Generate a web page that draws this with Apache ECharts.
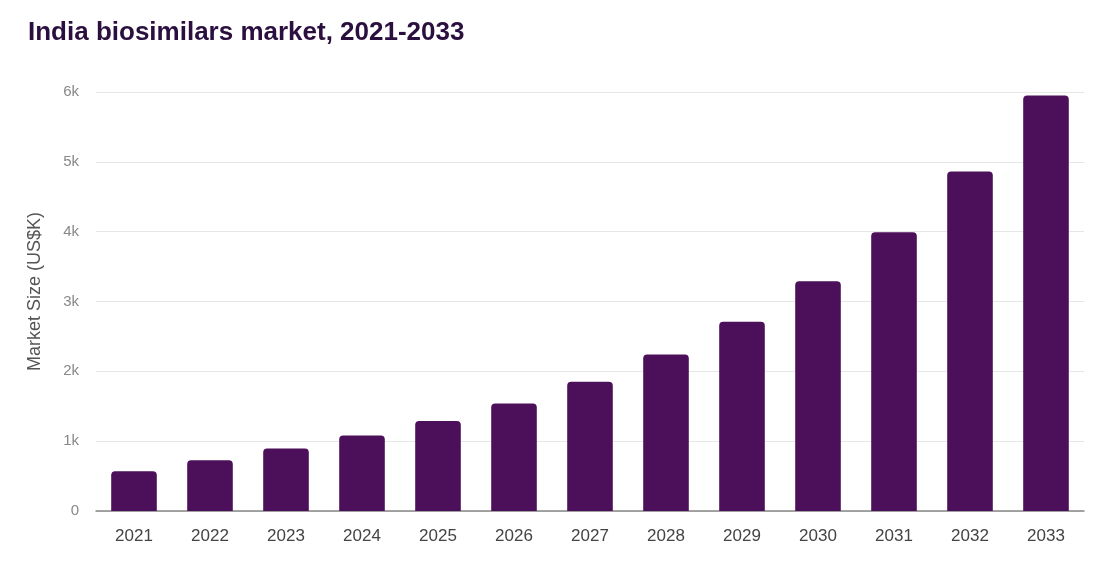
<!DOCTYPE html>
<html>
<head>
<meta charset="utf-8">
<script src="https://cdn.jsdelivr.net/npm/echarts@6/dist/echarts.min.js"></script>
<style>
  html, body { margin: 0; padding: 0; background: #fff; }
  #main { width: 1102px; height: 565px; }
</style>
</head>
<body>
<div id="main"></div>
<script>
// data
var years = ['2021', '2022', '2023', '2024', '2025', '2026', '2027', '2028', '2029', '2030', '2031', '2032', '2033'];
var marketSize = [570, 725, 895, 1080, 1290, 1540, 1850, 2240, 2710, 3290, 3990, 4860, 5950];
var yTicks = [0, 1000, 2000, 3000, 4000, 5000, 6000];

var myChart = echarts.init(document.getElementById('main'));

var option = {
    animation: false,
    title: {
        text: 'India biosimilars market, 2021-2033',
        left: 23,
        top: 15,
        textStyle: {
            fontFamily: 'Liberation Sans',
            fontSize: 26,
            fontWeight: 'bold',
            color: '#2b0f3f'
        }
    },
    grid: {
        left: 96,
        right: 18,
        top: 92,
        bottom: 54
    },
    xAxis: {
        type: 'category',
        data: years,
        axisTick: { show: false },
        axisLine: { lineStyle: { color: '#888', width: 1.5 } },
        axisLabel: {
            margin: 17,
            fontFamily: 'Liberation Sans',
            fontSize: 17,
            color: '#444'
        }
    },
    yAxis: {
        type: 'value',
        min: yTicks[0],
        max: yTicks[yTicks.length - 1],
        interval: 1000,
        name: 'Market Size (US$K)',
        nameLocation: 'middle',
        nameGap: 52,
        nameTextStyle: {
            fontFamily: 'Liberation Sans',
            fontSize: 18,
            color: '#555',
            padding: [0, 0, 0, 20]
        },
        axisLine: { show: false },
        axisTick: { show: false },
        splitLine: { lineStyle: { color: '#e6e6e6' } },
        axisLabel: {
            margin: 17,
            fontFamily: 'Liberation Sans',
            fontSize: 15,
            color: '#888',
            formatter: function (v) {
                return v === 0 ? '0' : (v / 1000) + 'k';
            }
        }
    },
    series: [
        {
            type: 'bar',
            data: marketSize,
            barWidth: '60%',
            itemStyle: {
                color: '#4b1059',
                borderRadius: [4, 4, 0, 0]
            }
        }
    ]
};
myChart.setOption(option);
</script>
</body>
</html>
